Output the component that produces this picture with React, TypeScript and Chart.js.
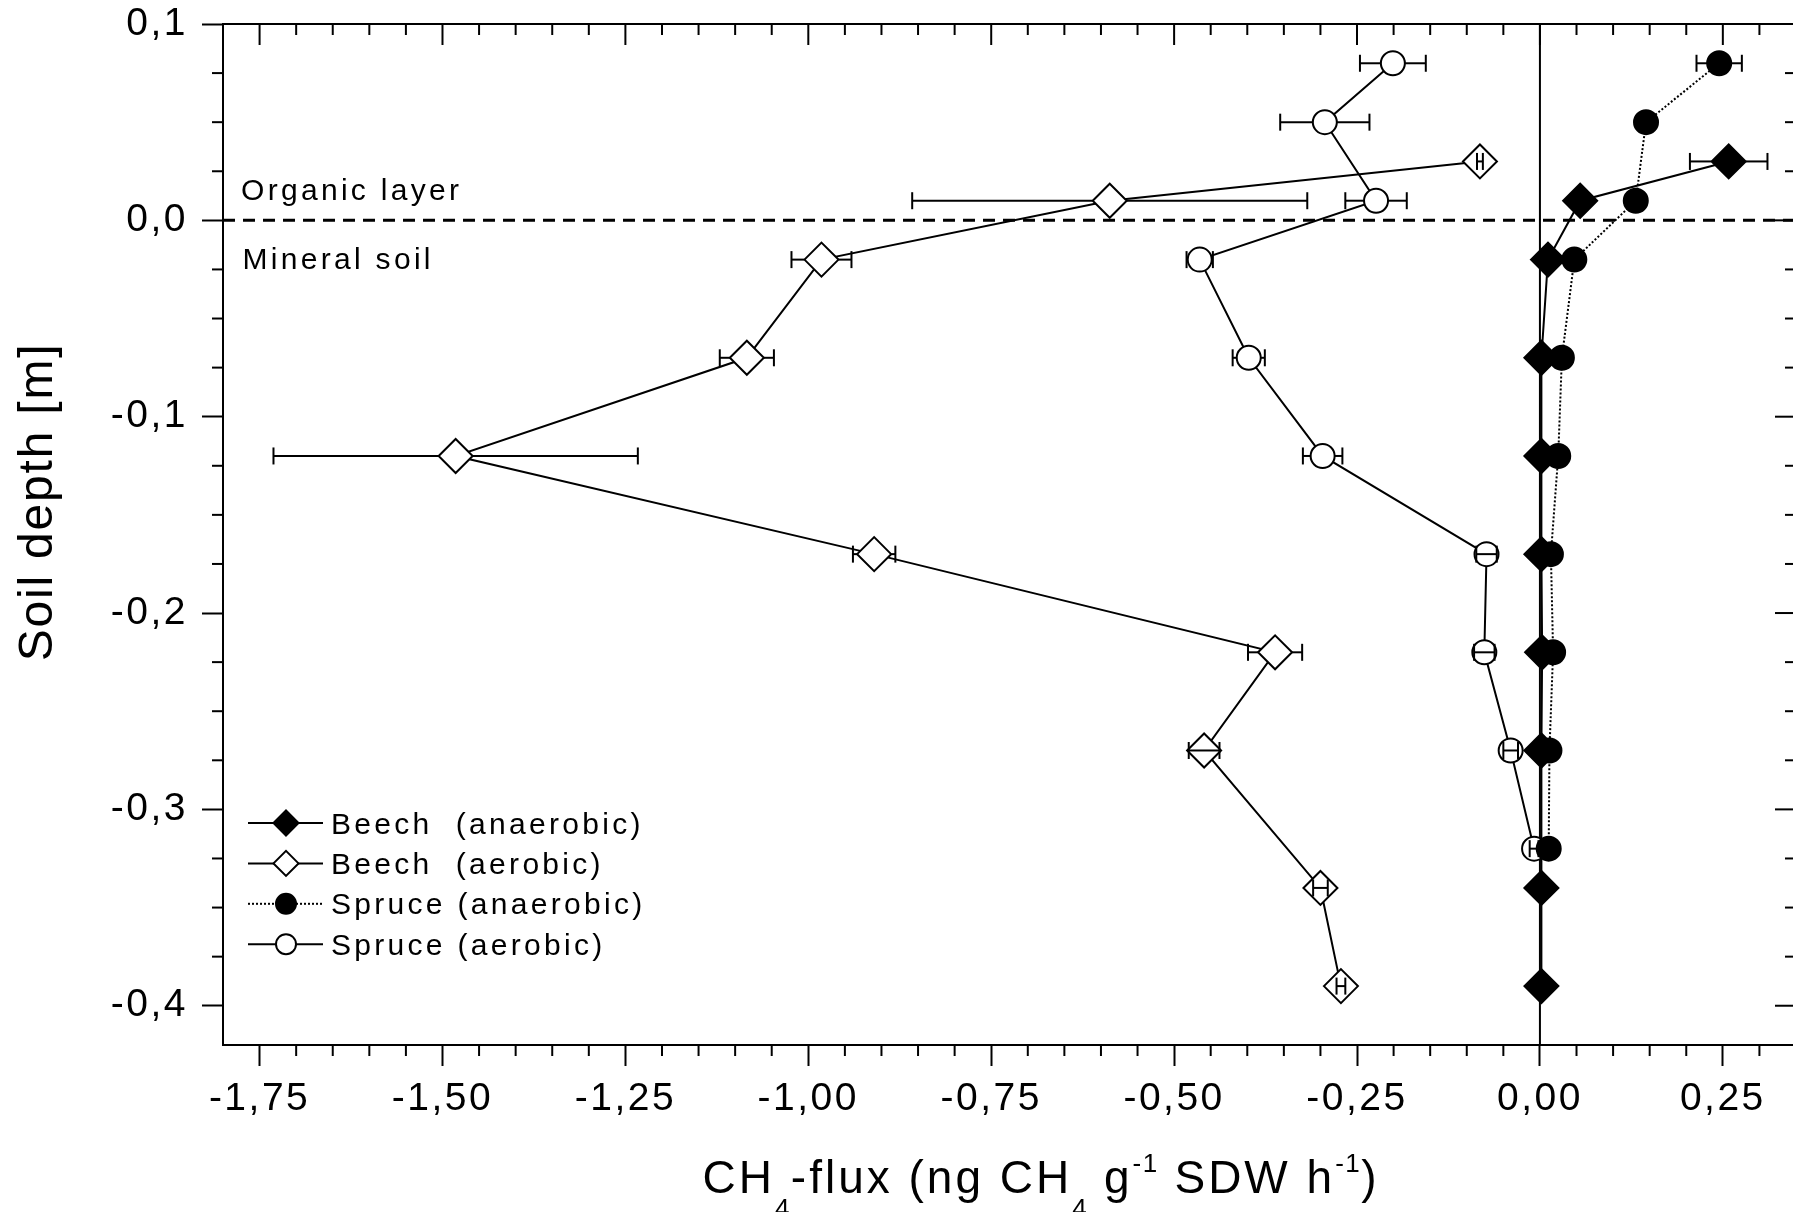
import React, { useEffect, useRef } from "react";
import { Chart, registerables } from "chart.js";

Chart.register(...registerables);

// ---------- data ----------
const DEPTH_BEECH = [0.03, 0.01, -0.02, -0.07, -0.12, -0.17, -0.22, -0.27, -0.34, -0.39];
const DEPTH_SPRUCE = [0.08, 0.05, 0.01, -0.02, -0.07, -0.12, -0.17, -0.22, -0.27, -0.32];

const BEECH_ANAEROBIC = [0.258, 0.055, 0.011, 0.002, 0.002, 0.002, 0.003, 0.002, 0.002, 0.002];
const BEECH_ANAEROBIC_ERR = [0.053, 0, 0, 0, 0, 0, 0, 0, 0, 0];

const BEECH_AEROBIC = [-0.082, -0.588, -0.982, -1.084, -1.482, -0.91, -0.362, -0.459, -0.3, -0.272];
const BEECH_AEROBIC_ERR = [0.004, 0.27, 0.041, 0.037, 0.249, 0.029, 0.037, 0.021, 0.01, 0.006];

const SPRUCE_ANAEROBIC = [0.245, 0.145, 0.131, 0.047, 0.03, 0.025, 0.015, 0.018, 0.013, 0.012];
const SPRUCE_ANAEROBIC_ERR = [0.031, 0, 0, 0, 0, 0, 0, 0, 0, 0];

const SPRUCE_AEROBIC = [-0.201, -0.294, -0.224, -0.465, -0.398, -0.297, -0.073, -0.076, -0.04, -0.008];
const SPRUCE_AEROBIC_ERR = [0.045, 0.061, 0.042, 0.018, 0.022, 0.027, 0.014, 0.014, 0.01, 0.006];

const X_MIN = -1.8;
const X_MAX = 0.35;
const Y_MIN = -0.42;
const Y_MAX = 0.1;

const LEGEND_LABELS = ["Beech  (anaerobic)", "Beech  (aerobic)", "Spruce (anaerobic)", "Spruce (aerobic)"];
const Y_TITLE = "Soil depth [m]";
const ORGANIC_LABEL = "Organic layer";
const MINERAL_LABEL = "Mineral soil";

const FONT = '"Liberation Sans", Arial, Helvetica, sans-serif';

// canvas is larger than the page and shifted up so that the plot frame
// lands where the reference has it (right frame line sits just off-page)
const CANVAS_W = 1900;
const CANVAS_H = 1262;
const OY = 50; // canvas offset above the page

type Series = {
  label: string;
  depth: number[];
  values: number[];
  err: number[];
  style: "rectRot" | "circle";
  filled: boolean;
  dotted: boolean;
  radius: number;
  order: number;
};

const SERIES: Series[] = [
  { label: LEGEND_LABELS[0], depth: DEPTH_BEECH, values: BEECH_ANAEROBIC, err: BEECH_ANAEROBIC_ERR, style: "rectRot", filled: true, dotted: false, radius: 17, order: 2 },
  { label: LEGEND_LABELS[1], depth: DEPTH_BEECH, values: BEECH_AEROBIC, err: BEECH_AEROBIC_ERR, style: "rectRot", filled: false, dotted: false, radius: 17, order: 3 },
  { label: LEGEND_LABELS[2], depth: DEPTH_SPRUCE, values: SPRUCE_ANAEROBIC, err: SPRUCE_ANAEROBIC_ERR, style: "circle", filled: true, dotted: true, radius: 12, order: 0 },
  { label: LEGEND_LABELS[3], depth: DEPTH_SPRUCE, values: SPRUCE_AEROBIC, err: SPRUCE_AEROBIC_ERR, style: "circle", filled: false, dotted: false, radius: 12, order: 1 },
];

const fmt = (v: number, d: number) => {
  const n = Math.abs(v) < 1e-9 ? 0 : v;
  return n.toFixed(d).replace(".", ",");
};

function seg(ctx: CanvasRenderingContext2D, x1: number, y1: number, x2: number, y2: number) {
  ctx.beginPath();
  ctx.moveTo(x1, y1);
  ctx.lineTo(x2, y2);
  ctx.stroke();
}

function marker(ctx: CanvasRenderingContext2D, style: string, cx: number, cy: number, r: number, filled: boolean) {
  ctx.beginPath();
  if (style === "circle") {
    ctx.arc(cx, cy, r, 0, Math.PI * 2);
  } else {
    ctx.moveTo(cx - r, cy);
    ctx.lineTo(cx, cy - r);
    ctx.lineTo(cx + r, cy);
    ctx.lineTo(cx, cy + r);
    ctx.closePath();
  }
  ctx.fillStyle = filled ? "#000" : "#fff";
  ctx.fill();
  ctx.lineWidth = 2;
  ctx.strokeStyle = "#000";
  ctx.stroke();
}

const decorPlugin = {
  id: "decor",
  beforeDraw(chart: any) {
    (chart.ctx as any).letterSpacing = "2.5px";
  },
  beforeDatasetsDraw(chart: any) {
    const ctx: CanvasRenderingContext2D = chart.ctx;
    const a = chart.chartArea;
    const xs = chart.scales.x;
    const ys = chart.scales.y;
    ctx.save();
    ctx.strokeStyle = "#000";
    ctx.lineWidth = 2;
    ctx.lineCap = "butt";

    // frame top & right
    seg(ctx, a.left - 1, a.top, a.right + 1, a.top);
    seg(ctx, a.right, a.top, a.right, a.bottom);

    // x ticks (minor every 0.05, major every 0.25)
    for (let i = -35; i <= 7; i++) {
      const px = xs.getPixelForValue(i * 0.05);
      const major = i % 5 === 0;
      if (!major) seg(ctx, px, a.bottom, px, a.bottom + 11);
      seg(ctx, px, a.top, px, a.top + (major ? 21 : 11));
    }
    // y ticks (minor every 0.025, major every 0.1)
    for (let i = -16; i <= 4; i++) {
      const py = ys.getPixelForValue(i * 0.025);
      const major = i % 4 === 0;
      if (!major) seg(ctx, a.left - 11, py, a.left, py);
      seg(ctx, a.right - (major ? 21 : 11), py, a.right, py);
    }

    // zero lines
    const x0 = xs.getPixelForValue(0);
    const y0 = ys.getPixelForValue(0);
    ctx.lineWidth = 2;
    seg(ctx, x0, a.top, x0, a.bottom);
    ctx.lineWidth = 3;
    ctx.setLineDash([12, 8]);
    seg(ctx, a.left, y0, a.right, y0);
    ctx.setLineDash([]);

    // layer annotations
    ctx.fillStyle = "#000";
    ctx.textAlign = "left";
    ctx.textBaseline = "alphabetic";
    ctx.font = `30px ${FONT}`;
    (ctx as any).letterSpacing = "3.3px";
    ctx.fillText(ORGANIC_LABEL, a.left + 18, y0 - 20);
    ctx.fillText(MINERAL_LABEL, a.left + 19.5, y0 + 49);

    // legend
    const lx0 = a.left + 25;
    const lx1 = a.left + 100;
    const lmx = a.left + 63;
    SERIES.forEach((s, k) => {
      const cy = OY + 823 + k * 40.4;
      ctx.lineWidth = 2;
      ctx.strokeStyle = "#000";
      if (s.dotted) ctx.setLineDash([2, 2]);
      seg(ctx, lx0, cy, lx1, cy);
      ctx.setLineDash([]);
      marker(ctx, s.style, lmx, cy, s.style === "circle" ? 10 : 12.5, s.filled);
      ctx.fillStyle = "#000";
      ctx.font = `30px ${FONT}`;
      (ctx as any).letterSpacing = "3.3px";
      ctx.textAlign = "left";
      ctx.textBaseline = "alphabetic";
      ctx.fillText(s.label, a.left + 108, cy + 10.5);
    });

    // y axis title
    ctx.save();
    ctx.translate(52, OY + 502);
    ctx.rotate(-Math.PI / 2);
    ctx.font = `48px ${FONT}`;
    (ctx as any).letterSpacing = "1.8px";
    ctx.textAlign = "center";
    ctx.textBaseline = "alphabetic";
    ctx.fillText(Y_TITLE, 0, 0);
    ctx.restore();

    // x axis title with sub/superscripts
    const parts: [string, number][] = [
      ["CH", 0], ["4", -1], ["-flux (ng CH", 0], ["4", -1], [" g", 0], ["-1", 1], [" SDW h", 0], ["-1", 1], [")", 0],
    ];
    const setFont = (lvl: number) => {
      if (lvl === 0) {
        ctx.font = `46px ${FONT}`;
        (ctx as any).letterSpacing = "3px";
      } else {
        ctx.font = `26px ${FONT}`;
        (ctx as any).letterSpacing = "1.5px";
      }
    };
    let total = 0;
    parts.forEach(([t, l]) => {
      setFont(l);
      total += ctx.measureText(t).width;
    });
    let cx = 1041 - total / 2;
    const base = OY + 1193;
    ctx.textAlign = "left";
    parts.forEach(([t, l]) => {
      setFont(l);
      const yy = l === 0 ? base : l < 0 ? base + 24 : base - 21;
      ctx.fillText(t, cx, yy);
      cx += ctx.measureText(t).width;
    });

    ctx.restore();
    (ctx as any).letterSpacing = "0px";
  },
  afterDatasetsDraw(chart: any) {
    const ctx: CanvasRenderingContext2D = chart.ctx;
    const xs = chart.scales.x;
    const ys = chart.scales.y;
    ctx.save();
    ctx.strokeStyle = "#000";
    ctx.lineWidth = 2;
    ctx.setLineDash([]);
    SERIES.forEach((s) => {
      s.depth.forEach((d, i) => {
        const e = s.err[i];
        if (!e) return;
        const v = s.values[i];
        const px = xs.getPixelForValue(v);
        const py = ys.getPixelForValue(d);
        const lo = xs.getPixelForValue(v - e);
        const hi = xs.getPixelForValue(v + e);
        const r = s.radius;
        if (hi - px > r) {
          seg(ctx, lo, py, px - r, py);
          seg(ctx, px + r, py, hi, py);
        } else {
          seg(ctx, lo, py, hi, py);
        }
        seg(ctx, lo, py - 8.5, lo, py + 8.5);
        seg(ctx, hi, py - 8.5, hi, py + 8.5);
      });
    });
    ctx.restore();
  },
  afterDraw(chart: any) {
    (chart.ctx as any).letterSpacing = "0px";
  },
};

export default function App() {
  const ref = useRef<HTMLCanvasElement>(null);

  useEffect(() => {
    if (!ref.current) return;
    const datasets = SERIES.map((s) => ({
      label: s.label,
      data: s.depth.map((d, i) => ({ x: s.values[i], y: d })),
      showLine: true,
      borderColor: "#000",
      borderWidth: 2,
      borderDash: s.dotted ? [2, 2] : [],
      pointStyle: s.style,
      pointRadius: s.radius,
      pointBorderWidth: 2,
      pointBorderColor: "#000",
      pointBackgroundColor: s.filled ? "#000" : "#fff",
      order: s.order,
      tension: 0,
    }));

    const chart = new Chart(ref.current, {
      type: "scatter",
      data: { datasets },
      options: {
        responsive: false,
        devicePixelRatio: 1,
        animation: false,
        events: [],
        layout: { padding: { top: OY + 24, right: CANVAS_W - 1796, left: 0, bottom: 0 } },
        plugins: { legend: { display: false }, tooltip: { enabled: false } },
        scales: {
          x: {
            type: "linear",
            position: "bottom",
            min: X_MIN,
            max: X_MAX,
            afterFit: (s: any) => {
              s.height = CANVAS_H - OY - 1045;
            },
            ticks: {
              stepSize: 0.25,
              includeBounds: false,
              color: "#000",
              font: { family: FONT, size: 39 },
              padding: 10,
              maxRotation: 0,
              autoSkip: false,
              callback: (v: any) => fmt(Number(v), 2),
            },
            grid: { drawOnChartArea: false, drawTicks: true, tickLength: 21, tickWidth: 2, tickColor: "#000", color: "#000" },
            border: { display: true, color: "#000", width: 2 },
          },
          y: {
            type: "linear",
            position: "left",
            min: Y_MIN,
            max: Y_MAX,
            afterFit: (s: any) => {
              s.width = 223;
            },
            ticks: {
              stepSize: 0.1,
              includeBounds: false,
              color: "#000",
              font: { family: FONT, size: 39 },
              padding: 14,
              autoSkip: false,
              callback: (v: any) => fmt(Number(v), 1),
            },
            grid: { drawOnChartArea: false, drawTicks: true, tickLength: 21, tickWidth: 2, tickColor: "#000", color: "#000" },
            border: { display: true, color: "#000", width: 2 },
          },
        },
      } as any,
      plugins: [decorPlugin as any],
    });
    return () => chart.destroy();
  }, []);

  return (
    <div style={{ position: "absolute", left: 0, top: 0, width: 1793, height: 1212, overflow: "hidden", background: "#fff" }}>
      <canvas
        ref={ref}
        width={CANVAS_W}
        height={CANVAS_H}
        style={{ display: "block", position: "absolute", left: 0, top: -OY, width: CANVAS_W, height: CANVAS_H }}
      />
    </div>
  );
}
